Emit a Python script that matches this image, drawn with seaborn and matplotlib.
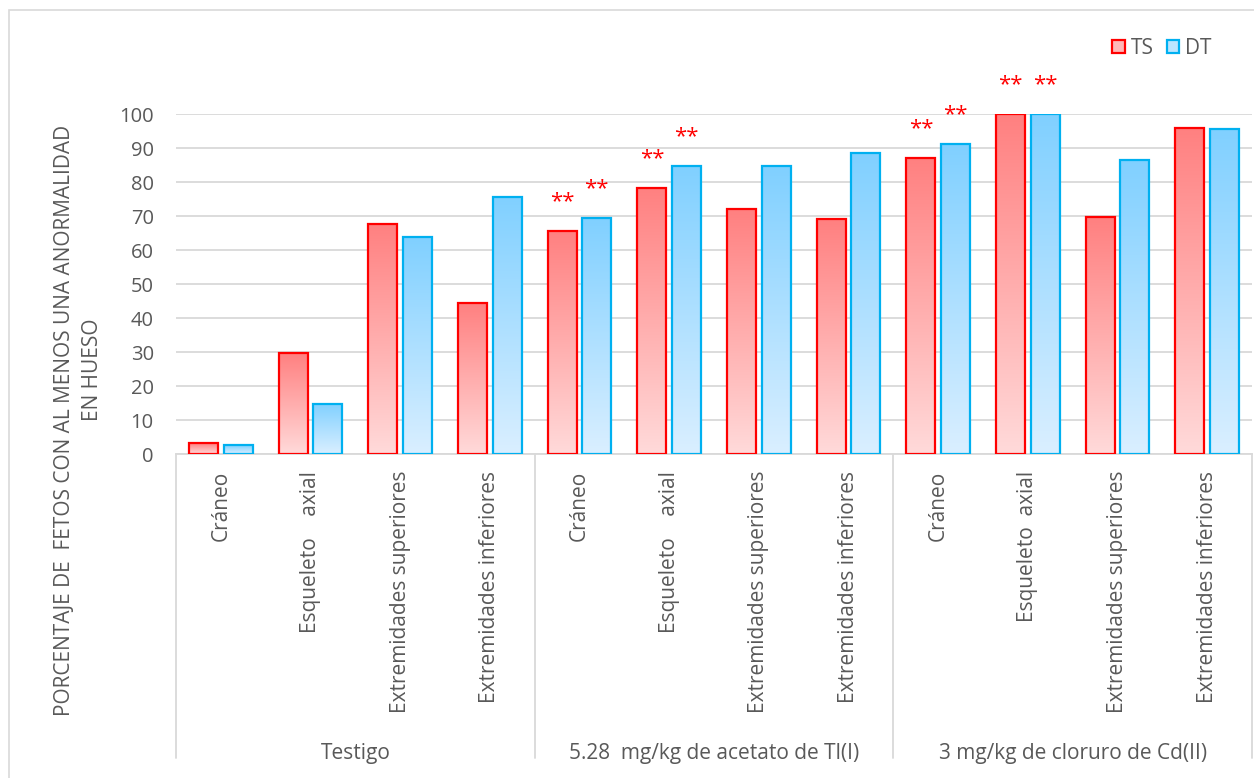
import numpy as np
import pandas as pd
import matplotlib
matplotlib.use("Agg")
import matplotlib.pyplot as plt
import matplotlib.transforms as mtransforms
from matplotlib.colors import LinearSegmentedColormap
from matplotlib.patches import Patch, Rectangle
import seaborn as sns

# ---------------- data ----------------
groups = ["Testigo", "5.28  mg/kg de acetato de Tl(I)", "3 mg/kg de cloruro de Cd(II)"]
categories = [
    "Cráneo", "Esqueleto    axial", "Extremidades superiores", "Extremidades inferiores",
    "Cráneo", "Esqueleto    axial", "Extremidades superiores", "Extremidades inferiores",
    "Cráneo", "Esqueleto  axial", "Extremidades superiores", "Extremidades inferiores",
]
ts_values = [3.1, 29.6, 67.7, 44.3, 65.7, 78.3, 72.0, 69.0, 87.1, 100.0, 69.6, 95.9]
dt_values = [2.6, 14.8, 63.7, 75.7, 69.3, 84.7, 84.7, 88.5, 91.1, 100.0, 86.4, 95.7]
ts_marks = ["", "", "", "", "**", "**", "", "", "**", "**", "", ""]
dt_marks = ["", "", "", "", "**", "**", "", "", "**", "**", "", ""]
series = ["TS", "DT"]
yticks = list(range(0, 101, 10))
ylabel1 = "PORCENTAJE DE  FETOS CON AL MENOS UNA ANORMALIDAD"
ylabel2 = "EN HUESO"

# ---------------- styling ----------------
sns.set_theme(style="white")
plt.rcParams["font.family"] = ["Open Sans", "DejaVu Sans"]
GREY = "#595959"
GRID = "#D9D9D9"
RED = "#FF0000"
BLUE = "#00B0F0"
ts_cmap = LinearSegmentedColormap.from_list("ts", ["#FFDADA", "#FF8080"])
dt_cmap = LinearSegmentedColormap.from_list("dt", ["#DAEFFF", "#80D0FF"])

n_per_group = len(categories) // len(groups)
keys = [f"{groups[i // n_per_group]}|{i}|{c}" for i, c in enumerate(categories)]
df = pd.DataFrame({
    "key": keys * 2,
    "serie": ["TS"] * len(keys) + ["DT"] * len(keys),
    "valor": ts_values + dt_values,
    "marca": ts_marks + dt_marks,
})

W, H = 1254, 778
fig = plt.figure(figsize=(W / 100, H / 100), dpi=100)
fig.patch.set_facecolor("white")
ax = fig.add_axes([176 / W, 1 - 454 / H, (1252 - 176) / W, 340 / H])

sns.barplot(data=df, x="key", y="valor", hue="serie", order=keys, hue_order=series,
            palette={"TS": RED, "DT": BLUE}, width=0.77, gap=0.16,
            errorbar=None, legend=False, ax=ax)

grad = np.linspace(1, 0, 256).reshape(-1, 1)
bars = list(ax.patches)
for p in bars:
    fc = p.get_facecolor()
    is_ts = fc[0] > 0.5
    x0, y0, w, h = p.get_x(), p.get_y(), p.get_width(), p.get_height()
    im = ax.imshow(grad, extent=[x0, x0 + w, y0, y0 + h], origin="upper", aspect="auto",
                   cmap=ts_cmap if is_ts else dt_cmap, vmin=0, vmax=1, zorder=2)
    im.set_clip_path(p)
    p.set_facecolor("none")
    p.set_edgecolor(RED if is_ts else BLUE)
    p.set_linewidth(1.6)
    p.set_zorder(3)

# significance marks
for p in bars:
    is_ts = p.get_edgecolor()[0] > 0.5
    cx = p.get_x() + p.get_width() / 2
    idx = int(round(cx))
    mark = (ts_marks if is_ts else dt_marks)[idx]
    if mark:
        ax.annotate(mark, xy=(cx, p.get_height()), xytext=(0, 21), textcoords="offset points",
                    ha="center", va="center", color=RED, fontsize=16, annotation_clip=False)

ax.set_xlim(-0.5, len(keys) - 0.5)
ax.set_ylim(0, 100)
ax.set_yticks(yticks)
ax.set_yticklabels([str(v) for v in yticks])
ax.set_xticks(range(len(keys)))
ax.set_xticklabels(categories, rotation=90, va="top", ha="center")
ax.tick_params(axis="y", length=0, pad=16, labelsize=14.5, labelcolor=GREY)
ax.tick_params(axis="x", length=0, pad=12, labelsize=15, labelcolor=GREY)
ax.set_xlabel("")
ax.set_ylabel("")
ax.yaxis.grid(True, color=GRID, lw=1.3)
ax.set_axisbelow(True)
for s in ["left", "right", "top"]:
    ax.spines[s].set_visible(False)
ax.spines["bottom"].set_color(GRID)
ax.spines["bottom"].set_linewidth(1.3)

# group box
trans = mtransforms.blended_transform_factory(ax.transData, ax.transAxes)
bottom_frac = (454 - 758) / 340
for k in range(len(groups) + 1):
    xv = -0.5 + k * n_per_group
    ax.plot([xv, xv], [0, bottom_frac], transform=trans, color=GRID, lw=1.3, clip_on=False)
for g, name in enumerate(groups):
    cx = g * n_per_group + (n_per_group - 1) / 2
    ax.text(cx, (454 - 753) / 340, name, transform=trans, ha="center", va="center",
            fontsize=15, color=GREY)

# y label (two lines)
fig.text(65 / W, 1 - 420 / H, ylabel1, rotation=90, ha="center", va="center", fontsize=15, color=GREY)
fig.text(93 / W, 1 - 370 / H, ylabel2, rotation=90, ha="center", va="center", fontsize=15, color=GREY)

# legend
handles = [Patch(facecolor="#FFB8B8", edgecolor=RED, lw=1.6, label="TS"),
           Patch(facecolor="#BDE5FF", edgecolor=BLUE, lw=1.6, label="DT")]
leg = fig.legend(handles=handles, loc="center left", bbox_to_anchor=(1104 / W, 1 - 48 / H),
                 ncol=2, frameon=False, fontsize=15, handlelength=0.6, handleheight=0.6,
                 handletextpad=0.3, columnspacing=0.6, borderaxespad=0)
for t in leg.get_texts():
    t.set_color(GREY)

# chart border
fig.patches.append(Rectangle((8.5 / W, -0.2), 1.3, 1.2 - 9.5 / H, transform=fig.transFigure,
                             fill=False, edgecolor=GRID, lw=1.2))

fig.savefig("out.png", dpi=100)
